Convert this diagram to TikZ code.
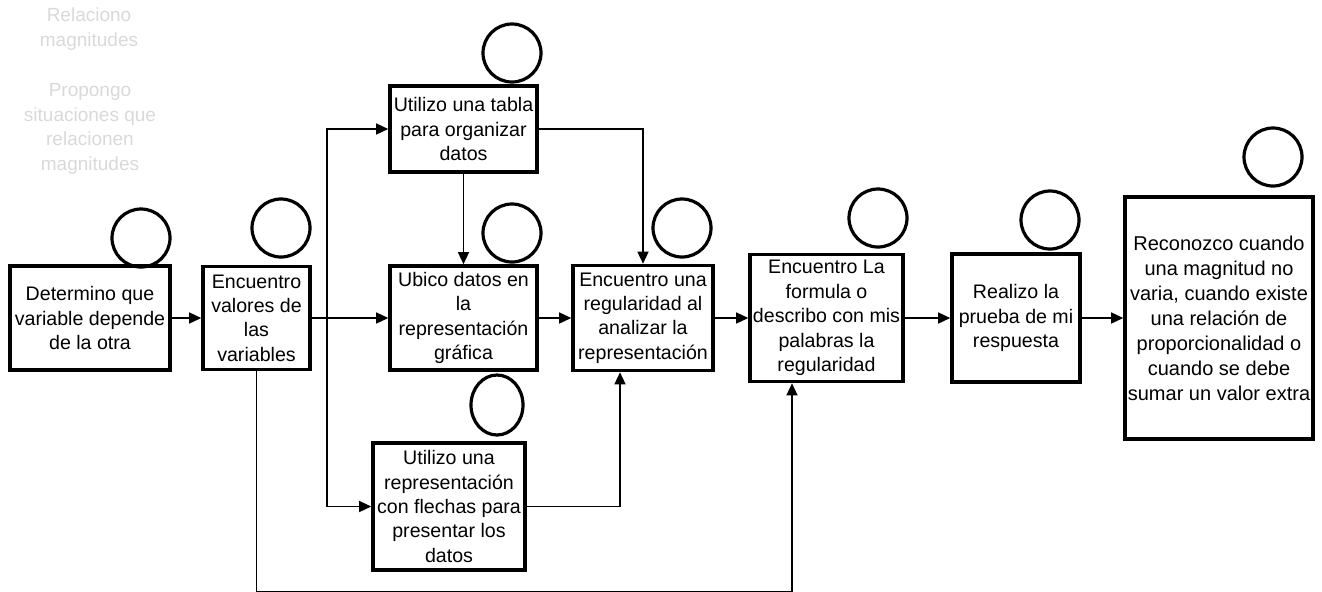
\documentclass[tikz,border=0pt]{standalone}
\usepackage{fontspec}
\setmainfont{Liberation Sans}
\usetikzlibrary{arrows.meta,shapes.geometric}

\tikzset{
  stepbox/.style={draw, line width=1.8pt, align=center, inner sep=0pt,
    font=\fontsize{9.8}{12.2}\selectfont},
  mark circle/.style={draw, circle, line width=1.6pt, minimum size=29pt, inner sep=0pt},
  arr/.style={line width=0.7pt, -{Triangle[length=6pt,width=5.5pt]}},
  note/.style={align=center, text=black!15, font=\fontsize{9.5}{12.2}\selectfont}
}

\begin{document}
\begin{tikzpicture}[x=0.5pt, y=-0.5pt]
\useasboundingbox (0,0) rectangle (1322,591);

% gray notes
\node[note] (note1) at (89,29) {Relaciono\\magnitudes};
\node[note] (note2) at (90,129) {Propongo\\situaciones que\\relacionen\\magnitudes};

% step boxes
\node[stepbox, minimum width=80pt, minimum height=52pt] (b1) at (90,318)
  {Determino que\\variable depende\\de la otra};
\node[stepbox, minimum width=53.5pt, minimum height=51.5pt] (b2) at (256.5,318)
  {Encuentro\\valores de\\las\\variables};
\node[stepbox, minimum width=73.5pt, minimum height=43pt] (b3) at (463.5,129)
  {Utilizo una tabla\\para organizar\\datos};
\node[stepbox, minimum width=73.5pt, minimum height=52pt] (b4) at (463.5,318)
  {Ubico datos en\\la\\representación\\gráfica};
\node[stepbox, minimum width=70pt, minimum height=52.5pt] (b5) at (643,318)
  {Encuentro una\\regularidad al\\analizar la\\representación};
\node[stepbox, minimum width=76.5pt, minimum height=63.5pt] (b6) at (826.5,318)
  {Encuentro La\\formula o\\describo con mis\\palabras la\\regularidad};
\node[stepbox, minimum width=64pt, minimum height=64pt] (b7) at (1016,318)
  {Realizo la\\prueba de mi\\respuesta};
\node[stepbox, minimum width=94pt, minimum height=121pt,
  font=\fontsize{10}{12.5}\selectfont] (b8) at (1219,318)
  {Reconozco cuando\\una magnitud no\\varia, cuando existe\\una relación de\\proporcionalidad o\\cuando se debe\\sumar un valor extra};
\node[stepbox, minimum width=76pt, minimum height=63.5pt] (b9) at (449,506.5)
  {Utilizo una\\representación\\con flechas para\\presentar los\\datos};

% circles
\node[mark circle] (c1) at (141,238) {};
\node[mark circle] (c2) at (281,228) {};
\node[mark circle] (c3) at (512,53) {};
\node[mark circle] (c4) at (512,233) {};
\node[mark circle] (c5) at (682,228) {};
\node[mark circle] (c6) at (878,218) {};
\node[mark circle] (c7) at (1050,220) {};
\node[mark circle] (c8) at (1273,157) {};
\node[mark circle, ellipse, minimum width=26pt, minimum height=30pt] (c9) at (497,405) {};

% connectors
\coordinate (split) at (327,318);
\coordinate (low) at (792,591.3);
\draw[arr] (b1.east) -- (b2.west);
\draw[arr] (b2.east) -- (b4.west);
\draw[arr] (split) |- (b3.west);
\draw[arr] (split) |- (b9.west);
\draw[arr] (b3.south) -- (b4.north);
\draw[arr] (b3.east) -| (b5.north);
\draw[arr] (b4.east) -- (b5.west);
\draw[arr] (b9.east) -| ([xshift=-11.5pt]b5.south);
\draw[arr] (b5.east) -- (b6.west);
\draw[arr] (b6.east) -- (b7.west);
\draw[arr] (b7.east) -- (b8.west);
\draw[arr] (b2.south) |- (low) -- (b6.south -| low);

\end{tikzpicture}
\end{document}
